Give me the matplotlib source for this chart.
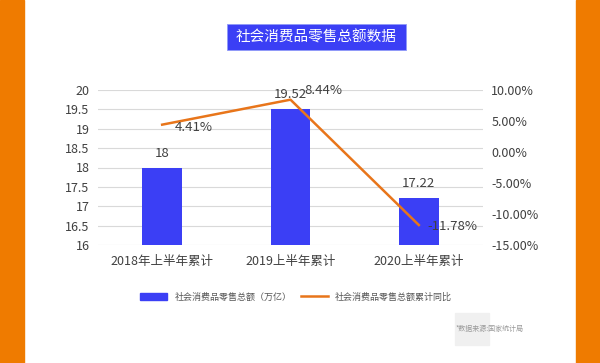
import matplotlib.pyplot as plt
from matplotlib.patches import Rectangle
from matplotlib.lines import Line2D

plt.rcParams['font.family'] = ['Noto Sans CJK SC', 'DejaVu Sans']

categories = ['2018年上半年累计', '2019上半年累计', '2020上半年累计']
sales = [18, 19.52, 17.22]
growth = [4.41, 8.44, -11.78]
left_ticks = [16, 16.5, 17, 17.5, 18, 18.5, 19, 19.5, 20]
right_ticks = [-15, -10, -5, 0, 5, 10]

blue = '#3b3ff5'
orange = '#e8751a'
text_c = '#404040'

fig = plt.figure(figsize=(6, 3.63), dpi=100)
fig.patch.set_facecolor('white')

# orange side strips
fig.add_artist(Rectangle((0, 0), 24 / 600, 1, transform=fig.transFigure, color='#ef7b00', zorder=0))
fig.add_artist(Rectangle((576 / 600, 0), 24 / 600, 1, transform=fig.transFigure, color='#ef7b00', zorder=0))

# title box
fig.add_artist(Rectangle((227 / 600, 1 - 50 / 363), 179 / 600, 26 / 363, transform=fig.transFigure,
                         fc=blue, ec='#8f9af8', lw=0.6, zorder=1))
fig.text(316.5 / 600, 1 - 37 / 363, '社会消费品零售总额数据', ha='center', va='center',
         color='white', fontsize=10.5, zorder=2)

ax = fig.add_axes([98 / 600, 1 - 245 / 363, 385 / 600, 155 / 363])
x = list(range(len(categories)))
ax.bar(x, sales, width=0.31, color=blue, zorder=2)
ax.set_ylim(16, 20)
ax.set_xlim(-0.5, 2.5)
ax.set_yticks(left_ticks)
ax.set_yticklabels([f'{t:g}' for t in left_ticks])
ax.set_xticks(x)
ax.set_xticklabels(categories)
ax.grid(axis='y', color='#d9d9d9', lw=0.8, zorder=0)
for s in ax.spines.values():
    s.set_visible(False)
ax.tick_params(length=0, labelsize=9, colors=text_c, pad=6)
ax.tick_params(axis='x', pad=7)
for xi, v in zip(x, sales):
    ax.text(xi, v + 0.2, f'{v:g}', ha='center', va='bottom', fontsize=9.5, color=text_c)

ax2 = ax.twinx()
ax2.plot(x, growth, color=orange, lw=1.8, zorder=3)
ax2.set_ylim(-15, 10)
ax2.set_yticks(right_ticks)
ax2.set_yticklabels([f'{t:.2f}%' for t in right_ticks])
for s in ax2.spines.values():
    s.set_visible(False)
ax2.tick_params(length=0, labelsize=9, colors=text_c, pad=6)
offsets = [(0.1, -0.4), (0.11, 1.4), (0.07, -0.2)]
for xi, v, (dx, dy) in zip(x, growth, offsets):
    ax2.text(xi + dx, v + dy, f'{v:.2f}%', ha='left', va='center', fontsize=9.5, color=text_c)

handles = [Rectangle((0, 0), 1, 1, color=blue), Line2D([], [], color=orange, lw=1.8)]
fig.legend(handles, ['社会消费品零售总额（万亿）', '社会消费品零售总额累计同比'],
           loc='center', bbox_to_anchor=(296 / 600, 1 - 297 / 363), ncol=2, frameon=False,
           fontsize=6.5, labelcolor='#555555', handlelength=3.0, handleheight=0.7,
           columnspacing=1.0)

# source note
fig.add_artist(Rectangle((455 / 600, 1 - 345 / 363), 34 / 600, 32 / 363,
                         transform=fig.transFigure, color='#f0f0f0', zorder=1))
fig.text(456 / 600, 1 - 329 / 363, '*数据来源:国家统计局', fontsize=5, color='#999999',
         va='center', ha='left', zorder=2)

fig.savefig('out.png', dpi=100)
